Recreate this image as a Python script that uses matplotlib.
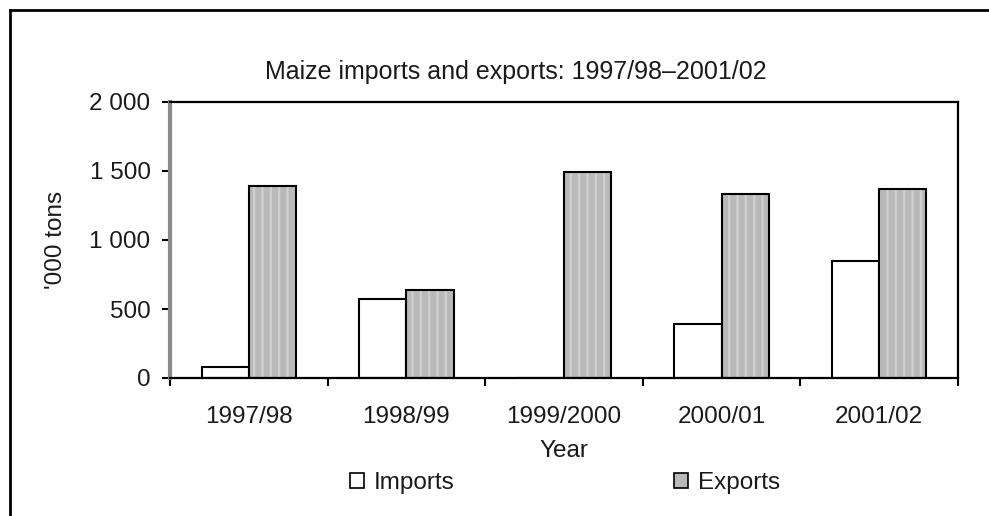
import numpy as np
import matplotlib
matplotlib.use('Agg')
import matplotlib.pyplot as plt
from matplotlib.patches import Patch
from matplotlib.lines import Line2D

# dati ('000 tonnellate)
years = ['1997/98', '1998/99', '1999/2000', '2000/01', '2001/02']
imports = [80, 570, 0, 390, 845]
exports = [1390, 640, 1490, 1330, 1370]
yticks = [0, 500, 1000, 1500, 2000]
ytick_labels = ['0', '500', '1 000', '1 500', '2 000']

plt.rcParams['font.family'] = ['Liberation Sans', 'DejaVu Sans']
plt.rcParams['hatch.linewidth'] = 1.6
txt = '#1a1a1a'
fs = 17.5

fig = plt.figure(figsize=(9.89, 5.16), dpi=100)
ax = fig.add_axes([170/989, 1-378/516, 788/989, 276/516])

x = np.arange(len(years))
w = 0.3

ax.bar(x - w/2, imports, w, color='white', edgecolor='black', linewidth=1.5, zorder=2)
# barre export: riempimento a righe verticali + contorno nero
ax.bar(x + w/2, exports, w, color='#b9b9b9', edgecolor='#d0d0d0', hatch='||', linewidth=0, zorder=2)
ax.bar(x + w/2, exports, w, fill=False, edgecolor='black', linewidth=1.5, zorder=3)

ax.set_xlim(-0.5, len(years) - 0.5)
ax.set_ylim(0, 2000)
ax.set_yticks(yticks)
ax.set_yticklabels(ytick_labels)
ax.set_xticks(x)
ax.set_xticklabels(years)
ax.set_xticks(np.arange(-0.5, len(years)), minor=True)
ax.tick_params(axis='x', which='major', length=0, pad=20, labelsize=fs, labelcolor=txt)
ax.tick_params(axis='x', which='minor', length=6, width=1.5, direction='out')
ax.tick_params(axis='y', length=6, width=1.5, direction='out', pad=8, labelsize=fs, labelcolor=txt)

for s in ['top', 'right', 'bottom']:
    ax.spines[s].set_linewidth(1.6)
    ax.spines[s].set_color('black')
ax.spines['left'].set_linewidth(3)
ax.spines['left'].set_color('#8a8a8a')

fig.text(516/989, 1-72/516, 'Maize imports and exports: 1997/98\u20132001/02',
         fontsize=18, color=txt, ha='center', va='center')
ax.set_xlabel('Year', fontsize=fs, color=txt, labelpad=9)
ax.set_ylabel("'000 tons", fontsize=fs, color=txt, labelpad=16)

handles = [Patch(facecolor='white', edgecolor='black', linewidth=1.2),
           Patch(facecolor='#b9b9b9', edgecolor='black', linewidth=1.2)]
fig.legend(handles, ['Imports', 'Exports'], loc='center', bbox_to_anchor=(565/989, 1-483/516),
           ncol=2, frameon=False, fontsize=fs, handlelength=0.6, handleheight=0.6,
           handletextpad=0.4, columnspacing=9.0, labelcolor=txt)

# cornice esterna (solo alto e sinistra)
fig.add_artist(Line2D([10/989, 1], [1-10/516, 1-10/516], color='black', linewidth=2))
fig.add_artist(Line2D([10/989, 10/989], [0, 1-10/516], color='black', linewidth=2))

fig.savefig('out.png', dpi=100)
